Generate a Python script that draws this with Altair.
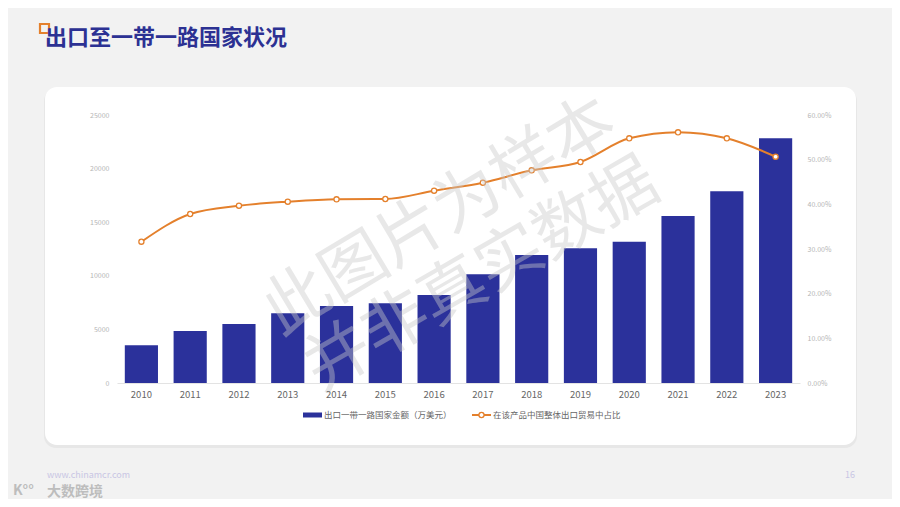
import altair as alt
import pandas as pd

# ---- data ----
years = ["2010", "2011", "2012", "2013", "2014", "2015", "2016",
         "2017", "2018", "2019", "2020", "2021", "2022", "2023"]
amounts = [3520, 4850, 5500, 6500, 7180, 7440, 8210,
           10140, 11940, 12570, 13180, 15580, 17880, 22830]
shares = [0.3163, 0.3784, 0.3969, 0.4059, 0.4113, 0.4119, 0.4305,
          0.4484, 0.4762, 0.4948, 0.5478, 0.5613, 0.5478, 0.5066]
left_ticks = [0, 5000, 10000, 15000, 20000, 25000]
right_ticks = [0, 0.1, 0.2, 0.3, 0.4, 0.5, 0.6]
series_names = ["出口一带一路国家金额（万美元）", "在该产品中国整体出口贸易中占比"]
title_text = "出口至一带一路国家状况"
watermark = ["此图片为样本", "并非真实数据"]

FONT = "Noto Sans CJK SC"
BLUE = "#2b319b"
ORANGE = "#e4802c"

df = pd.DataFrame({"year": years, "amount": amounts, "share": shares})
one = pd.DataFrame({"_": [0]})

W, H = 683, 268
PAD_L, PAD_T = 109, 107

x_enc = alt.X("year:N", sort=years,
              scale=alt.Scale(paddingInner=0.32, paddingOuter=0.16),
              axis=alt.Axis(title=None, labelAngle=0, ticks=False,
                            domainColor="#e3e3e3", domainWidth=1,
                            labelColor="#666666", labelFontSize=9.5,
                            labelFont=FONT, labelPadding=6, grid=False,
                            zindex=1))

bars = alt.Chart(df).mark_bar(color=BLUE).encode(
    x=x_enc,
    y=alt.Y("amount:Q", scale=alt.Scale(domain=[0, 25000], nice=False),
            axis=alt.Axis(title=None, values=left_ticks, format="d",
                          grid=False, domain=False, ticks=False,
                          labelColor="#b5b5b5", labelFontSize=7,
                          labelFont=FONT, labelPadding=8, zindex=1)),
)

line = alt.Chart(df).mark_line(
    color=ORANGE, strokeWidth=2, interpolate="monotone",
    point=alt.OverlayMarkDef(filled=True, fill="white", stroke=ORANGE,
                             strokeWidth=1.3, size=26, opacity=1),
).encode(
    x=alt.X("year:N", sort=years),
    y=alt.Y("share:Q", scale=alt.Scale(domain=[0, 0.6], nice=False),
            axis=alt.Axis(title=None, orient="right", values=right_ticks,
                          format=".2%", grid=False, domain=False, ticks=False,
                          labelColor="#b5b5b5", labelFontSize=7,
                          labelFont=FONT, labelPadding=7, zindex=1)),
)

deco = alt.Chart(one)

shadow = deco.mark_rect(cornerRadius=12, fill="#e7e7e7").encode(
    x=alt.value(-73), x2=alt.value(740), y=alt.value(-26), y2=alt.value(333))
card = deco.mark_rect(cornerRadius=12, fill="white").encode(
    x=alt.value(-72), x2=alt.value(739), y=alt.value(-28), y2=alt.value(330))

title_sq = deco.mark_rect(fill=None, stroke="#e4802c", strokeWidth=2.2).encode(
    x=alt.value(-77), x2=alt.value(-68), y=alt.value(-91), y2=alt.value(-82))
title = deco.mark_text(align="left", baseline="middle", font=FONT,
                       fontSize=22, fontWeight="bold", color="#2c3193").encode(
    x=alt.value(-72), y=alt.value(-77), text=alt.value(title_text))

wm1 = deco.mark_text(align="center", baseline="middle", font=FONT,
                     fontSize=66, angle=329, color="#c9c9c9", opacity=0.42).encode(
    x=alt.value(323), y=alt.value(102), text=alt.value(watermark[0]))
wm2 = deco.mark_text(align="center", baseline="middle", font=FONT,
                     fontSize=66, angle=330, color="#c9c9c9", opacity=0.42).encode(
    x=alt.value(365), y=alt.value(161), text=alt.value(watermark[1]))

leg_rect = deco.mark_rect(fill=BLUE).encode(
    x=alt.value(186), x2=alt.value(205), y=alt.value(297.5), y2=alt.value(302.5))
leg_t1 = deco.mark_text(align="left", baseline="middle", font=FONT,
                        fontSize=8.5, color="#666666").encode(
    x=alt.value(207), y=alt.value(300), text=alt.value(series_names[0]))
leg_line = deco.mark_rule(color=ORANGE, strokeWidth=2).encode(
    x=alt.value(355), x2=alt.value(374), y=alt.value(300))
leg_pt = deco.mark_point(filled=True, fill="white", stroke=ORANGE,
                         strokeWidth=1.3, size=26, opacity=1).encode(
    x=alt.value(364.5), y=alt.value(300))
leg_t2 = deco.mark_text(align="left", baseline="middle", font=FONT,
                        fontSize=8.5, color="#666666").encode(
    x=alt.value(376), y=alt.value(300), text=alt.value(series_names[1]))

url = deco.mark_text(align="left", baseline="middle", font=FONT,
                     fontSize=9, color="#c9c6e4").encode(
    x=alt.value(-70), y=alt.value(360), text=alt.value("www.chinamcr.com"))
page_no = deco.mark_text(align="left", baseline="middle", font=FONT,
                         fontSize=9, color="#c9c6e4").encode(
    x=alt.value(728), y=alt.value(360), text=alt.value("16"))
logo_k = deco.mark_text(align="left", baseline="middle", font=FONT,
                        fontSize=14, color="#bdbdbd", fontWeight="bold").encode(
    x=alt.value(-104), y=alt.value(376), text=alt.value("K°°"))
logo = deco.mark_text(align="left", baseline="middle", font=FONT,
                      fontSize=14, color="#bdbdbd", fontWeight="bold").encode(
    x=alt.value(-70), y=alt.value(377), text=alt.value("大数跨境"))

chart = alt.layer(
    shadow, card, title_sq, title, bars, line, wm1, wm2,
    leg_rect, leg_t1, leg_line, leg_pt, leg_t2, url, page_no, logo_k, logo,
).resolve_scale(y="independent").properties(
    width=W, height=H,
    autosize=alt.AutoSizeParams(type="none"),
    padding={"left": PAD_L, "top": PAD_T, "right": 884 - PAD_L - W,
             "bottom": 491 - PAD_T - H},
    background="#f2f2f2",
).configure_view(stroke=None)

chart.save("out.html", embed_options={"renderer": "svg", "actions": False})
